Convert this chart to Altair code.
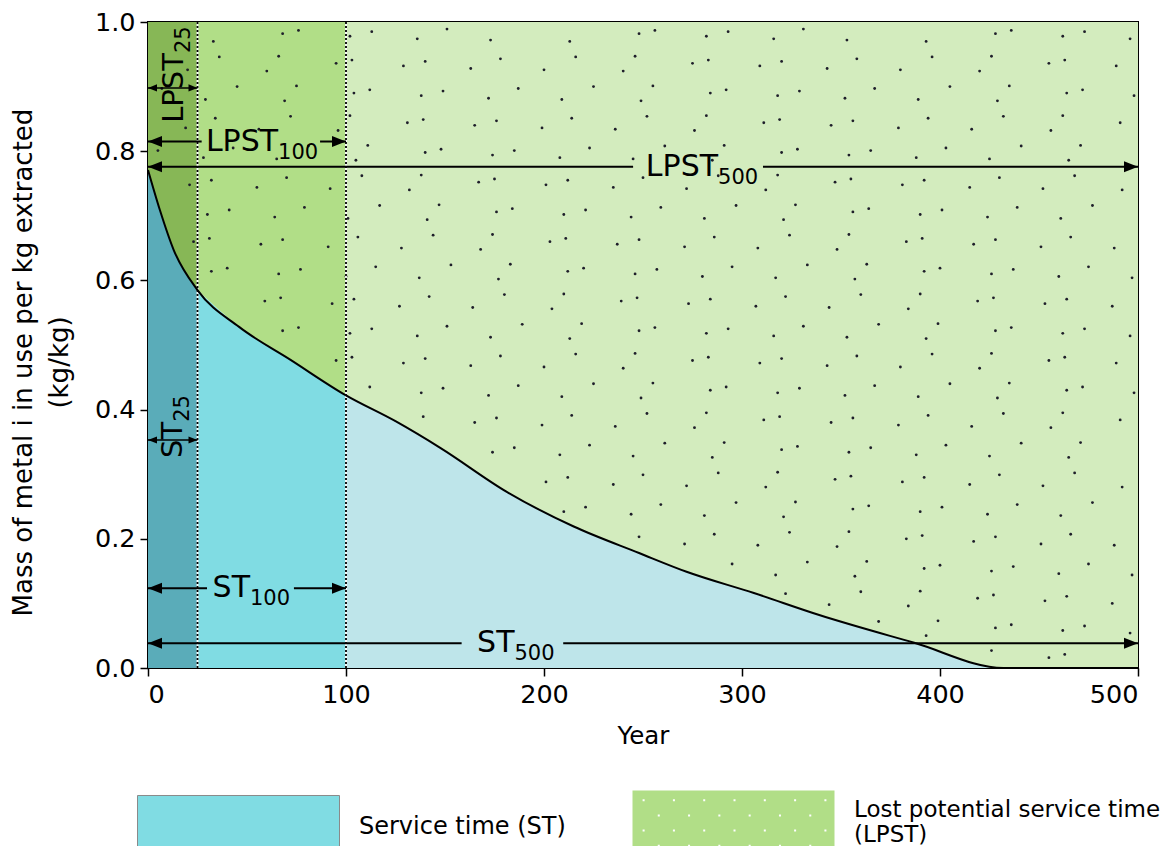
import altair as alt
import pandas as pd
import numpy as np

# ---------------- data ----------------
years = [0, 6, 13, 25, 46, 72, 100, 125, 148, 181, 215, 248, 272, 306, 339, 387, 432, 500]
mass = [0.771, 0.709, 0.647, 0.585, 0.528, 0.477, 0.422, 0.382, 0.340, 0.273, 0.219,
        0.178, 0.149, 0.116, 0.082, 0.039, 0.0, 0.0]

seg_bounds = [0, 25, 100, 500]
st_colors = ["#5AACB9", "#80DCE3", "#BEE5EA"]
lpst_colors = ["#87B756", "#B1DE87", "#D3ECBE"]

# arrows: start, end, level, small
arrow_x1 = [0, 0, 86.9, 0, 310.6, 0, 0, 73.7, 0, 209.7]
arrow_x2 = [25, 27.1, 100, 245, 500, 25, 29.8, 100, 158.4, 500]
arrow_y = [0.898, 0.815, 0.815, 0.776, 0.776, 0.353, 0.1234, 0.1234, 0.0382, 0.0382]
arrow_small = [True, False, False, False, False, True, False, False, False, False]

head_x = [0, 25, 0, 100, 0, 500, 0, 25, 0, 100, 0, 500]
head_y = [0.898, 0.898, 0.815, 0.815, 0.776, 0.776, 0.353, 0.353, 0.1234, 0.1234, 0.0382, 0.0382]
head_dir = ["L", "R"] * 6
head_small = [True, True, False, False, False, False, True, True, False, False, False, False]

# horizontal labels (anchor = junction of main text and subscript)
hlab_x = [287.9, 65.7, 51.5, 185.1]
hlab_y = [0.776, 0.815, 0.1234, 0.0382]
hlab_main = ["LPST", "LPST", "ST", "ST"]
hlab_sub = ["500", "100", "100", "500"]

# vertical labels
vlab_x = [13.1, 12.8]
vlab_y = [0.952, 0.381]
vlab_main = ["LPST", "ST"]
vlab_sub = ["25", "25"]

divider_years = [25, 100]

st_key = ["ST"]
lpst_key = ["LPST"]
st_legend_fill = "#80DCE3"
lpst_legend_fill = "#B1DE87"

# ---------------- tables ----------------
rows = []
for i in range(3):
    lo, hi = seg_bounds[i], seg_bounds[i + 1]
    for yr, m in zip(years, mass):
        if lo <= yr <= hi:
            rows.append({"year": yr, "mass": m, "seg": i,
                         "st_col": st_colors[i], "lpst_col": lpst_colors[i]})
seg_df = pd.DataFrame(rows)
curve_df = pd.DataFrame({"year": years, "mass": mass})

# dot texture of the LPST region (staggered lattice with a fixed small wobble, kept above the curve)
wob_x = [0, 5, -4, 2, -6, 3, -2, 6, -5, 1]
wob_y = [0, 0.010, -0.008, 0.005, -0.012, 0.007, -0.004, 0.011, -0.010, 0.003]
dots = []
r = 0
yv0 = 0.982
while yv0 > 0.0:
    off = 9 if r % 2 == 0 else 18
    k = 0
    xv0 = off
    while xv0 < 499:
        xv = xv0 + wob_x[(7 * k + 3 * r) % 10]
        yv = yv0 + wob_y[(3 * k + 7 * r + 1) % 10]
        if 1 < xv < 499 and yv < 0.992 and yv > np.interp(xv, years, mass) + 0.015:
            dots.append({"year": xv, "mass": yv})
        xv0 += 18
        k += 1
    r += 1
    yv0 = 0.982 - r * 0.046
dots_df = pd.DataFrame(dots)

arrows_df = pd.DataFrame({"x1": arrow_x1, "x2": arrow_x2, "y": arrow_y, "small": arrow_small})
heads_df = pd.DataFrame({"x": head_x, "y": head_y, "dir": head_dir, "small": head_small})
hlab_df = pd.DataFrame({"x": hlab_x, "y": hlab_y, "main": hlab_main, "sub": hlab_sub})
vlab_df = pd.DataFrame({"x": vlab_x, "y": vlab_y, "main": vlab_main, "sub": vlab_sub})
div_df = pd.DataFrame({"x": divider_years})
st_leg_df = pd.DataFrame({"st_kind": st_key})
lpst_leg_df = pd.DataFrame({"lpst_kind": lpst_key})

# ---------------- scales / shapes ----------------
xs = alt.Scale(domain=[0, 500], nice=False, zero=False)
ys = alt.Scale(domain=[0, 1], nice=False)
FONT = "DejaVu Sans"

x_axis = alt.Axis(values=[0, 100, 200, 300, 400, 500], title="Year", grid=False,
                  domain=False, tickSize=8, tickWidth=1.5, tickColor="black",
                  labelFontSize=25.5, titleFontSize=24.5, labelFont=FONT, titleFont=FONT,
                  labelColor="black", titleColor="black", titleFontWeight="normal",
                  labelPadding=6, titlePadding=17)
y_axis = alt.Axis(values=[0, 0.2, 0.4, 0.6, 0.8, 1.0], format=".1f",
                  title=["Mass of metal i in use per kg extracted", "(kg/kg)"],
                  grid=False, domain=False, tickSize=8, tickWidth=1.5, tickColor="black",
                  labelFontSize=25.5, titleFontSize=26, labelFont=FONT, titleFont=FONT,
                  labelColor="black", titleColor="black", titleFontWeight="normal",
                  labelPadding=5, titlePadding=22, titleLineHeight=36, titleY=340)

left_head = "M0,0L2,-0.79L2,0.79Z"
right_head = "M0,0L-2,-0.79L-2,0.79Z"

box = "M-1,-0.307H1V0.307H-1Z"
holes = ""
for ri, yy in enumerate([-0.22, -0.07, 0.08, 0.23]):
    xx = -0.9 if ri % 2 == 0 else -0.75
    while xx < 0.95:
        holes += "M%.3f,%.3fv0.02h0.02v-0.02Z" % (xx, yy)
        xx += 0.3
dotted_box = box + holes

base = alt.Chart(seg_df)

st_area = base.mark_area(interpolate="monotone").encode(
    x=alt.X("year:Q", scale=xs, axis=x_axis),
    y=alt.Y("mass:Q", scale=ys, axis=y_axis, stack=None),
    fill=alt.Fill("st_col:N", scale=None),
    detail="seg:N",
)
lpst_area = base.mark_area(interpolate="monotone").encode(
    x="year:Q", y=alt.Y("mass:Q", stack=None), y2=alt.datum(1),
    fill=alt.Fill("lpst_col:N", scale=None),
    detail="seg:N",
)
dots_layer = alt.Chart(dots_df).mark_circle(size=8, color="#1e1e2a", opacity=1).encode(
    x="year:Q", y="mass:Q")

div_white = alt.Chart(div_df).mark_rule(color="white", strokeWidth=1.8).encode(
    x="x:Q", y=alt.datum(0), y2=alt.datum(1))
div_black = alt.Chart(div_df).mark_rule(color="black", strokeWidth=1.8, strokeDash=[2, 2]).encode(
    x="x:Q", y=alt.datum(0), y2=alt.datum(1))

curve = alt.Chart(curve_df).mark_line(interpolate="monotone", color="black", strokeWidth=2).encode(
    x="year:Q", y="mass:Q")

arrow_lines = alt.Chart(arrows_df).mark_rule(color="black").encode(
    x="x1:Q", x2="x2:Q", y="y:Q",
    strokeWidth=alt.condition("datum.small", alt.value(1.5), alt.value(2)))

heads_l = alt.Chart(heads_df).transform_filter("datum.dir == 'L'").mark_point(
    shape=left_head, filled=True, color="black", opacity=1, strokeWidth=0).encode(
    x="x:Q", y="y:Q", size=alt.condition("datum.small", alt.value(81), alt.value(196)))
heads_r = alt.Chart(heads_df).transform_filter("datum.dir == 'R'").mark_point(
    shape=right_head, filled=True, color="black", opacity=1, strokeWidth=0).encode(
    x="x:Q", y="y:Q", size=alt.condition("datum.small", alt.value(81), alt.value(196)))

hmain = alt.Chart(hlab_df).mark_text(align="right", baseline="middle", fontSize=30,
                                     font=FONT, color="black").encode(
    x="x:Q", y="y:Q", text="main:N")
hsub = alt.Chart(hlab_df).mark_text(align="left", baseline="middle", fontSize=21, dy=11,
                                    font=FONT, color="black").encode(
    x="x:Q", y="y:Q", text="sub:N")
vmain = alt.Chart(vlab_df).mark_text(align="right", baseline="middle", fontSize=29, angle=270,
                                     font=FONT, color="black").encode(
    x="x:Q", y="y:Q", text="main:N")
vsub = alt.Chart(vlab_df).mark_text(align="left", baseline="middle", fontSize=21, angle=270, dy=10,
                                    font=FONT, color="black").encode(
    x="x:Q", y="y:Q", text="sub:N")

# legend: service time (color channel)
st_leg = alt.Legend(title=None, orient="none", legendX=-11, legendY=703,
                    symbolType=box, symbolSize=40804, labelFontSize=24, labelFont=FONT,
                    labelColor="black", labelOffset=19, labelLimit=600, padding=0,
                    symbolStrokeColor="#8a8a8a", symbolStrokeWidth=1,
                    labelExpr="'Service time (ST)'")
st_legend_layer = alt.Chart(st_leg_df).transform_filter("false").mark_point(
    filled=True, opacity=1, shape=box).encode(
    color=alt.Color("st_kind:N", scale=alt.Scale(domain=st_key, range=[st_legend_fill]), legend=st_leg),
)

# legend: lost potential service time (shape channel)
lpst_leg = alt.Legend(title=None, orient="none", legendX=484, legendY=698,
                      symbolSize=40804, labelFontSize=23, labelFont=FONT,
                      labelColor="black", labelOffset=19, labelLimit=600, padding=0,
                      labelBaseline="bottom",
                      symbolFillColor=lpst_legend_fill,
                      symbolStrokeColor="#8a8a8a", symbolStrokeWidth=1,
                      labelExpr="['Lost potential service time', '(LPST)']")
lpst_legend_layer = alt.Chart(lpst_leg_df).transform_filter("false").mark_point(
    filled=True, opacity=1, color=lpst_legend_fill).encode(
    shape=alt.Shape("lpst_kind:N", scale=alt.Scale(domain=lpst_key, range=[dotted_box]), legend=lpst_leg),
)

chart = alt.layer(
    st_area, lpst_area, dots_layer, div_white, div_black, curve,
    arrow_lines, heads_l, heads_r, hmain, hsub, vmain, vsub,
    st_legend_layer, lpst_legend_layer
).properties(
    width=990, height=646,
    autosize=alt.AutoSizeParams(type="none"),
    padding={"left": 140, "top": 14, "right": 24, "bottom": 178},
).configure_view(stroke="black", strokeWidth=2)

chart.save("out.html", embed_options={"renderer": "svg", "actions": False})
